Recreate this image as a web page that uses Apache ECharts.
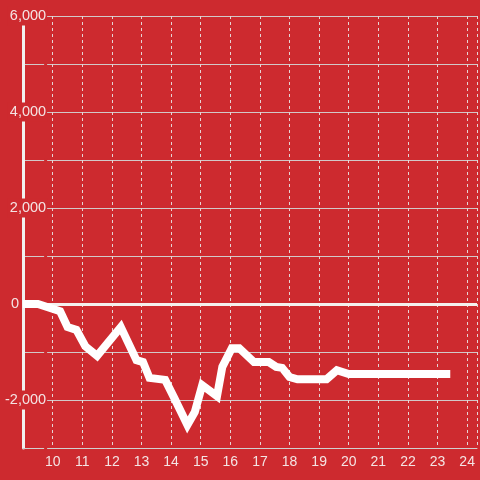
<!DOCTYPE html>
<html>
<head>
<meta charset="utf-8">
<script src="https://cdn.jsdelivr.net/npm/echarts@6/dist/echarts.min.js"></script>
<style>html,body{margin:0;padding:0;background:#cd2a2f;}#c{width:480px;height:480px;}</style>
</head>
<body>
<div id="c"></div>
<script>
var xValues = [9, 9.5, 10.25, 10.5, 10.8, 11.1, 11.5, 12.3, 12.83, 13.05, 13.27, 13.8, 14.1, 14.55, 14.8, 15.05, 15.55, 15.73, 16.05, 16.3, 16.8, 17.3, 17.55, 17.75, 18.0, 18.27, 19.25, 19.6, 20.0, 23.43];
var yValues = [0, 0, -150, -480, -540, -880, -1080, -480, -1170, -1210, -1540, -1580, -1950, -2520, -2250, -1690, -1920, -1310, -920, -920, -1210, -1210, -1310, -1330, -1520, -1570, -1570, -1380, -1460, -1460];
var yTicks = [-3000, -2000, -1000, 0, 1000, 2000, 3000, 4000, 5000, 6000];

var data = xValues.map(function (x, i) { return [x, yValues[i]]; });
var labelColor = '#f4e4e4';
var bg = '#cd2a2f';

var chart = echarts.init(document.getElementById('c'));
chart.setOption({
  backgroundColor: bg,
  animation: false,
  grid: { left: 20, right: 0, top: 16, bottom: 32, containLabel: false },
  xAxis: {
    type: 'value',
    min: 9,
    max: 24.333,
    interval: 1,
    axisLine: { show: true, onZero: false, lineStyle: { color: '#d0d0d0', width: 1 } },
    axisTick: { show: false },
    axisLabel: {
      color: labelColor,
      fontSize: 14,
      fontFamily: 'Liberation Sans, Arial, sans-serif',
      margin: 7,
      showMinLabel: false,
      formatter: function (v) {
        if (Math.abs(v - Math.round(v)) > 1e-6 || v <= 9) return '';
        return String(v);
      }
    },
    splitLine: { show: true, lineStyle: { color: '#e6d4d4', width: 1, type: [3, 3] } }
  },
  yAxis: {
    type: 'value',
    min: yTicks[0],
    max: yTicks[yTicks.length - 1],
    interval: 1000,
    axisLine: { show: true, lineStyle: { color: '#f2f0ef', width: 3 } },
    axisTick: { show: false },
    axisLabel: {
      color: labelColor,
      fontSize: 14.5,
      fontFamily: 'Liberation Sans, Arial, sans-serif',
      margin: -24,
      backgroundColor: bg,
      padding: [2, 1, 2, 2],
      formatter: function (v) {
        if (v === 0 || Math.abs(v) % 2000 !== 0) return '';
        return v.toLocaleString('en-US');
      }
    },
    splitLine: { show: true, lineStyle: { color: '#d2c8c8', width: 1 } }
  },
  series: [{
    type: 'line',
    data: data,
    showSymbol: false,
    symbol: 'none',
    lineStyle: { color: '#ffffff', width: 8, join: 'miter' },
    z: 3,
    markLine: {
      silent: true,
      symbol: 'none',
      lineStyle: { color: '#f4f0ee', width: 3, type: 'solid' },
      label: {
        show: true,
        position: 'start',
        distance: 4,
        color: labelColor,
        fontSize: 14.5,
        fontFamily: 'Liberation Sans, Arial, sans-serif',
        formatter: '0'
      },
      data: [{ yAxis: 0 }],
      z: 2
    }
  }]
});
</script>
</body>
</html>
